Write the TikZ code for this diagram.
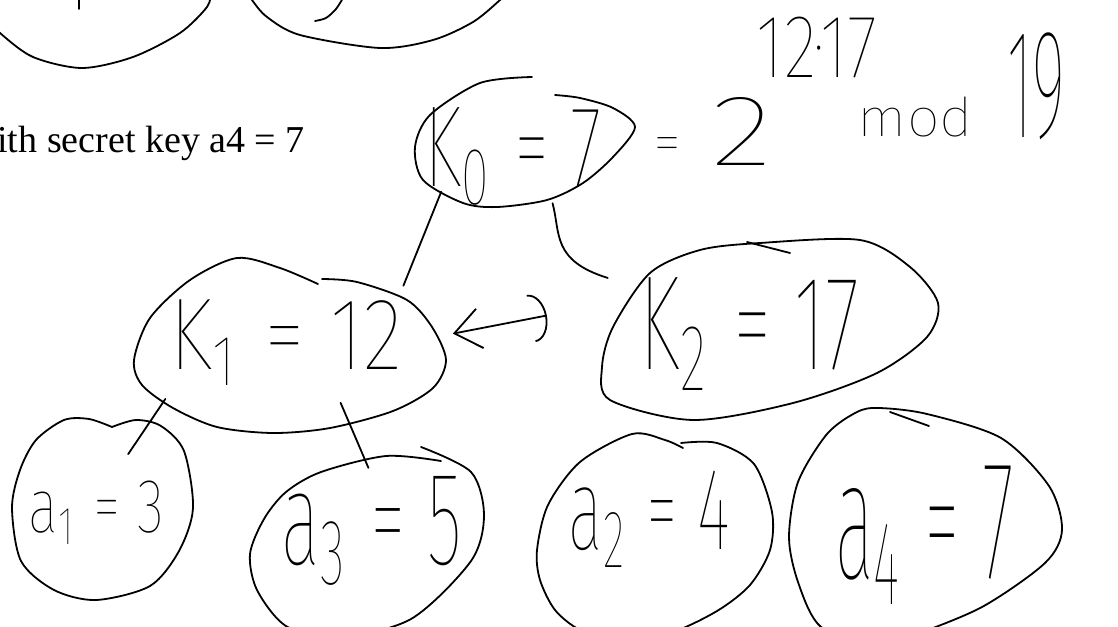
\documentclass[tikz,border=0pt]{standalone}
\usepackage{fontspec}
\usepackage{graphicx}
\usetikzlibrary{shapes.geometric,arrows.meta}
\setmainfont{Liberation Serif}
\IfFontExistsTF{NotoSans-Thin.ttf}{\newfontfamily\handfont{NotoSans-Thin.ttf}}{%
\IfFontExistsTF{FiraSans-Thin.otf}{\newfontfamily\handfont{FiraSans-Thin.otf}}{%
\IfFontExistsTF{FiraSans-Thin.ttf}{\newfontfamily\handfont{FiraSans-Thin.ttf}}{%
\IfFontExistsTF{NotoSans-ExtraLight.ttf}{\newfontfamily\handfont{NotoSans-ExtraLight.ttf}}{%
\IfFontExistsTF{DejaVuSans-ExtraLight.ttf}{\newfontfamily\handfont{DejaVuSans-ExtraLight.ttf}}{%
\IfFontExistsTF{FiraSans-Light.otf}{\newfontfamily\handfont{FiraSans-Light.otf}}{%
\IfFontExistsTF{FiraSans-Light.ttf}{\newfontfamily\handfont{FiraSans-Light.ttf}}{%
\IfFontExistsTF{NotoSans-Light.ttf}{\newfontfamily\handfont{NotoSans-Light.ttf}}{%
\IfFontExistsTF{OpenSans-Light.ttf}{\newfontfamily\handfont{OpenSans-Light.ttf}}{%
\newfontfamily\handfont{Fira Sans}}}}}}}}}}
\newcommand\hwlabel[3]{\resizebox*{#1pt}{#2pt}{\handfont #3}}
\tikzset{
  outline/.style={line width=1.8pt},
  shapenode/.style={ellipse, draw=none, inner sep=0pt},
  lbl/.style={inner sep=0pt, anchor=center},
  link/.style={line width=1.8pt},
}
\begin{document}
\begin{tikzpicture}[x=1pt,y=-1pt,line cap=round,line join=round]
\useasboundingbox (0,0) rectangle (1118,626);
\fill[white] (0,0) rectangle (1118,626);

% partial shapes cut at the top edge
\draw[outline] plot[smooth] coordinates {(-8,22) (0,33) (33,57) (82,68) (133,57) (180,33) (207,7) (211,-8)};
\draw[outline] (79,-2) -- (79,9);
\draw[outline] plot[smooth] coordinates {(248,-8) (252,0) (267,17) (300,35) (380,48) (433,40) (473,22) (500,0) (507,-8)};
\draw[outline] plot[smooth] coordinates {(315,21) (326,18) (336,9) (343,-2)};

% printed text
\node[anchor=base east, inner sep=0pt, font=\fontsize{38}{40}\selectfont] (keytext) at (305,152) {with secret key a4 = 7};

% node shapes (for connectors)
\node[shapenode, minimum width=224pt, minimum height=130pt, rotate=6] (K0) at (524,142) {};
\node[shapenode, minimum width=312pt, minimum height=175pt] (K1) at (290,346) {};
\node[shapenode, minimum width=344pt, minimum height=170pt, rotate=15] (K2) at (770,330) {};
\node[shapenode, minimum width=184pt, minimum height=182pt] (a1) at (102,510) {};
\node[shapenode, minimum width=244pt, minimum height=190pt, rotate=25] (a3) at (367,546) {};
\node[shapenode, minimum width=236pt, minimum height=207pt] (a2) at (655,538) {};
\node[shapenode, minimum width=274pt, minimum height=240pt] (a4) at (925,528) {};

% hand-drawn outlines
\draw[outline] plot[smooth] coordinates {(532,77) (480,83) (430,115) (415,147) (423,180) (463,203) (497,207) (547,200) (583,183) (613,157) (635,127) (613,108) (580,98) (555,95)};
\draw[outline] plot[smooth] coordinates {(322,279) (357,282) (407,300) (432,327) (446,360) (433,388) (393,411) (330,428) (273,433) (217,427) (173,408) (142,385) (134,360) (150,318) (190,280) (237,258) (280,268) (318,284)};
\draw[outline] plot[smooth cycle] coordinates {(602,367) (613,327) (650,273) (700,250) (760,243) (860,240) (910,267) (938,303) (927,337) (877,373) (793,403) (693,420) (610,400)};
\draw[outline] (747,242) -- (790,253);
\draw[outline] plot[smooth] coordinates {(112,427) (136,420) (161,426) (184,451) (193,508) (179,551) (150,586) (96,600) (54,590) (21,561) (12,508) (20,470) (36,440) (64,420) (89,419) (112,427)};
\draw[outline] plot[smooth] coordinates {(421,447) (471,472) (484,515) (471,561) (411,619) (336,638) (286,626) (257,590) (250,554) (264,519) (286,492) (321,472) (386,456) (441,461)};
\draw[outline] plot[smooth] coordinates {(681,443) (717,443) (754,464) (772,512) (770,550) (750,585) (717,611) (670,633) (617,641) (580,630) (555,610) (540,580) (537,550) (548,505) (580,462) (632,434) (665,440) (683,448)};
\draw[outline] plot[smooth cycle] coordinates {(879,408) (927,414) (1001,438) (1049,486) (1062,530) (1045,563) (982,607) (909,637) (872,648) (820,626) (798,582) (789,537) (798,482) (827,434) (857,412)};
\draw[outline] (890,412) -- (929,426);

% handwritten labels
\node[lbl] (K0t) at (513.5,156.5) {\hwlabel{177}{97}{K\textsubscript{0} = 7}};
\node[lbl] (eqt) at (667,150) {\hwlabel{28}{26}{=}};
\node[lbl] (twot) at (742,131) {\hwlabel{61}{68}{2}};
\node[lbl] (expt) at (817,47.5) {\hwlabel{120}{61}{12·17}};
\node[lbl] (modt) at (915.5,117) {\hwlabel{115}{40}{mod}};
\node[lbl] (ninet) at (1036,86.5) {\hwlabel{58}{107}{19}};
\node[lbl] (K1t) at (286,342.5) {\hwlabel{232}{85}{K\textsubscript{1} = 12}};
\node[lbl] (K2t) at (750,334) {\hwlabel{220}{112}{K\textsubscript{2} = 17}};
\node[lbl] (a1t) at (96.5,512.5) {\hwlabel{135}{63}{a\textsubscript{1} = 3}};
\node[lbl] (a3t) at (372,530.5) {\hwlabel{180}{109}{a\textsubscript{3} = 5}};
\node[lbl] (a2t) at (649.5,519) {\hwlabel{161}{96}{a\textsubscript{2} = 4}};
\node[lbl] (a4t) at (924.5,535) {\hwlabel{179}{138}{a\textsubscript{4} = 7}};

% connectors
\draw[link] (K0.205) -- (K1.28);
\draw[link, shorten >=46pt] (K0.289) .. controls +(8,30) and +(-100,-31) .. (K2.147);
\draw[link, shorten >=-30pt] (K1.203) -- (a1.62);
\draw[link, shorten <=-26pt, shorten >=-21pt] (K1.307) -- (a3.69);
\draw[link, {Straight Barb[length=26pt,width=40pt]}-{Arc Barb[length=16pt,width=48pt]}, shorten <=8pt, shorten >=100pt] (K1.4) -- (K2.150);
\end{tikzpicture}
\end{document}
